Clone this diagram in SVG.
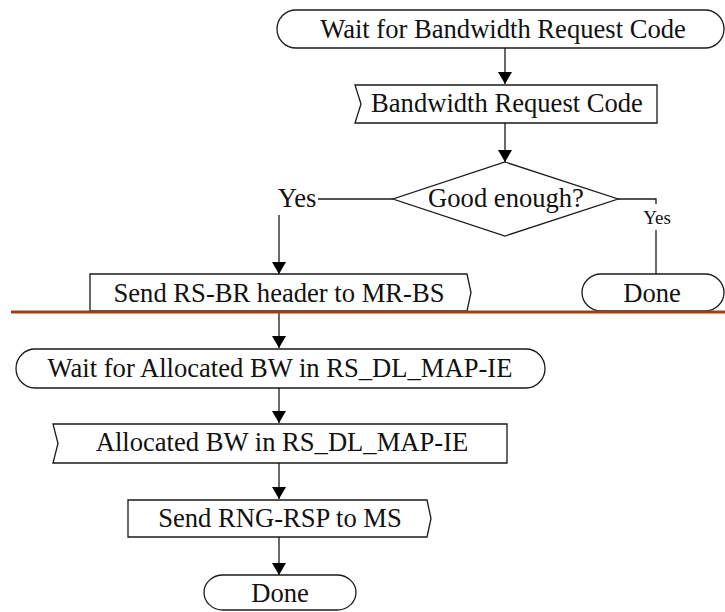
<svg xmlns="http://www.w3.org/2000/svg" width="725" height="612" viewBox="0 0 725 612">
<style>
.s{fill:#fff;stroke:#1a1a1a;stroke-width:1.3}
.c{fill:none;stroke:#1a1a1a;stroke-width:1.3}
.t{font-family:"Liberation Serif","Times New Roman",serif;font-size:26.6px;fill:#111;text-anchor:middle}
.y{font-family:"Liberation Serif","Times New Roman",serif;font-size:19px;fill:#111;text-anchor:middle}
</style>
<defs>
<marker id="ah" markerUnits="userSpaceOnUse" viewBox="0 0 12 14" markerWidth="12" markerHeight="14" refX="12" refY="7" orient="auto">
<path d="M0,0 L12,7 L0,14 z" fill="#000"/>
</marker>
</defs>
<rect width="725" height="612" fill="#fff"/>
<g id="connectors">
<line class="c" x1="505" y1="48" x2="505" y2="84" marker-end="url(#ah)"/>
<line class="c" x1="505" y1="123" x2="505" y2="162" marker-end="url(#ah)"/>
<line class="c" x1="393" y1="199" x2="318" y2="199"/>
<line class="c" x1="279" y1="215" x2="279" y2="274" marker-end="url(#ah)"/>
<polyline class="c" points="618,199 656,199 656,204"/>
<line class="c" x1="656" y1="230" x2="656" y2="274"/>
<line class="c" x1="279" y1="312" x2="279" y2="348" marker-end="url(#ah)"/>
<line class="c" x1="279" y1="388" x2="279" y2="423" marker-end="url(#ah)"/>
<line class="c" x1="279" y1="463" x2="279" y2="499" marker-end="url(#ah)"/>
<line class="c" x1="279" y1="537" x2="279" y2="575" marker-end="url(#ah)"/>
<text class="t" x="297" y="207">Yes</text>
<text class="y" x="657" y="224">Yes</text>
</g>
<g id="wait-bw-code">
<rect class="s" x="277" y="10" width="447" height="38" rx="19" ry="19"/>
<text class="t" x="503" y="38">Wait for Bandwidth Request Code</text>
</g>
<g id="bw-code">
<polygon class="s" points="355,85 657,85 657,123 355,123 361,104"/>
<text class="t" x="507" y="112">Bandwidth Request Code</text>
</g>
<g id="good-enough">
<polygon class="s" points="505,162 618,199 505,236 393,199"/>
<text class="t" x="506" y="207">Good enough?</text>
</g>
<g id="done-right">
<rect class="s" x="582" y="274" width="142" height="37" rx="19" ry="18.5"/>
<text class="t" x="652" y="302">Done</text>
</g>
<g id="send-rs-br">
<polygon class="s" points="90,274 467,274 471,292.5 467,311 90,311"/>
<text class="t" x="279" y="302">Send RS-BR header to MR-BS</text>
</g>
<g id="separator">
<line x1="11" y1="312" x2="725" y2="312" stroke="#a0400f" stroke-width="3"/>
</g>
<g id="wait-alloc">
<rect class="s" x="16" y="349" width="529" height="39" rx="19" ry="19.5"/>
<text class="t" x="280" y="377">Wait for Allocated BW in RS_DL_MAP-IE</text>
</g>
<g id="alloc-bw">
<polygon class="s" points="53,424 507,424 507,463 53,463 58,443.5"/>
<text class="t" x="282" y="451">Allocated BW in RS_DL_MAP-IE</text>
</g>
<g id="send-rng-rsp">
<polygon class="s" points="128,500 427,500 431,518.5 427,537 128,537"/>
<text class="t" x="280" y="527">Send RNG-RSP to MS</text>
</g>
<g id="done">
<rect class="s" x="204" y="575" width="152" height="35" rx="19" ry="17.5"/>
<text class="t" x="280" y="602">Done</text>
</g>
</svg>
